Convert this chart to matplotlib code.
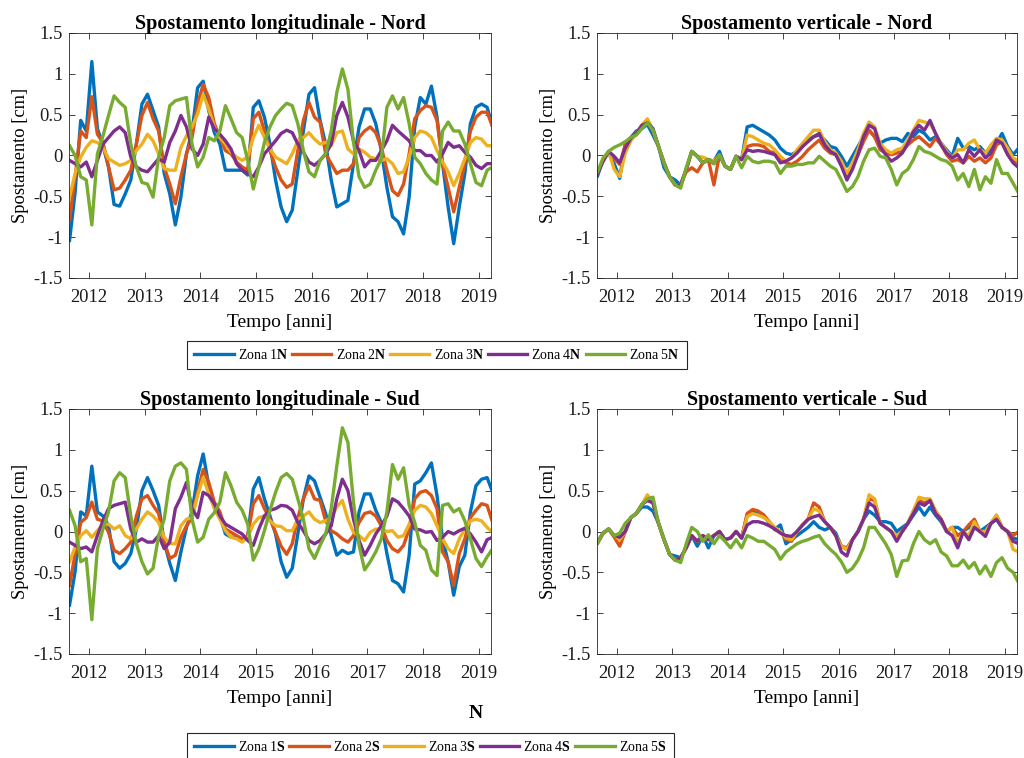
import matplotlib
matplotlib.use('Agg')
import matplotlib.pyplot as plt
from matplotlib.lines import Line2D

plt.rcParams['font.family'] = ['Liberation Serif', 'DejaVu Serif']
plt.rcParams['mathtext.fontset'] = 'custom'
plt.rcParams['mathtext.rm'] = 'Liberation Serif'
plt.rcParams['mathtext.bf'] = 'Liberation Serif:bold'

# ---- time axis (decimal years) ----
t = [2011.65, 2011.75, 2011.85, 2011.95, 2012.05, 2012.15, 2012.25, 2012.35, 2012.45, 2012.55,
     2012.65, 2012.75, 2012.85, 2012.95, 2013.05, 2013.15, 2013.25, 2013.35, 2013.45, 2013.55,
     2013.65, 2013.75, 2013.85, 2013.95, 2014.05, 2014.15, 2014.25, 2014.35, 2014.45, 2014.55,
     2014.65, 2014.75, 2014.85, 2014.95, 2015.05, 2015.15, 2015.25, 2015.35, 2015.45, 2015.55,
     2015.65, 2015.75, 2015.85, 2015.95, 2016.05, 2016.15, 2016.25, 2016.35, 2016.45, 2016.55,
     2016.65, 2016.75, 2016.85, 2016.95, 2017.05, 2017.15, 2017.25, 2017.35, 2017.45, 2017.55,
     2017.65, 2017.75, 2017.85, 2017.95, 2018.05, 2018.15, 2018.25, 2018.35, 2018.45, 2018.55,
     2018.65, 2018.75, 2018.85, 2018.95, 2019.05, 2019.15, 2019.25]

# ---- Spostamento longitudinale - Nord ----
ln_z1 = [-1.04, -0.45, 0.43, 0.30, 1.15, 0.33, 0.12, -0.14, -0.60, -0.62,
         -0.47, -0.30, 0.14, 0.63, 0.75, 0.55, 0.35, -0.22, -0.47, -0.85,
         -0.51, 0.02, 0.30, 0.83, 0.91, 0.55, 0.28, 0.14, -0.18, -0.18,
         -0.18, -0.18, -0.24, 0.59, 0.67, 0.47, 0.14, -0.30, -0.63, -0.81,
         -0.67, -0.18, 0.30, 0.75, 0.83, 0.43, 0.14, -0.30, -0.63, -0.59,
         -0.55, -0.10, 0.35, 0.57, 0.57, 0.39, 0.06, -0.39, -0.75, -0.81,
         -0.96, -0.51, 0.35, 0.71, 0.63, 0.85, 0.47, -0.10, -0.63, -1.08,
         -0.63, -0.22, 0.39, 0.59, 0.63, 0.59, 0.35]
ln_z2 = [-0.79, -0.26, 0.30, 0.22, 0.72, 0.26, 0.16, -0.14, -0.42, -0.40,
         -0.30, -0.18, 0.14, 0.49, 0.65, 0.45, 0.30, -0.14, -0.35, -0.59,
         -0.26, 0.02, 0.22, 0.63, 0.87, 0.71, 0.39, 0.22, 0.06, 0.02,
         -0.08, -0.14, -0.18, 0.45, 0.53, 0.30, 0.06, -0.14, -0.30, -0.39,
         -0.35, 0.06, 0.43, 0.65, 0.47, 0.41, 0.02, -0.10, -0.22, -0.18,
         -0.18, -0.10, 0.22, 0.30, 0.35, 0.28, 0.10, -0.18, -0.43, -0.49,
         -0.35, 0.02, 0.45, 0.55, 0.61, 0.59, 0.43, -0.10, -0.39, -0.69,
         -0.39, -0.10, 0.30, 0.47, 0.53, 0.53, 0.35]
ln_z3 = [-0.51, -0.22, -0.02, 0.10, 0.18, 0.16, 0.10, -0.04, -0.08, -0.12,
         -0.10, -0.06, 0.06, 0.14, 0.26, 0.18, 0.02, -0.16, -0.18, -0.18,
         0.10, 0.24, 0.35, 0.51, 0.75, 0.57, 0.35, 0.22, 0.14, 0.04,
         -0.02, -0.06, -0.02, 0.22, 0.37, 0.22, 0.08, -0.02, -0.06, -0.10,
         0.02, 0.18, 0.22, 0.28, 0.20, 0.14, 0.16, 0.12, 0.28, 0.30,
         0.08, 0.02, 0.08, 0.04, -0.02, -0.04, -0.06, -0.04, -0.10, -0.22,
         -0.20, -0.02, 0.22, 0.30, 0.28, 0.22, 0.06, -0.08, -0.20, -0.37,
         -0.22, -0.04, 0.16, 0.22, 0.20, 0.12, 0.12]
ln_z4 = [-0.06, -0.10, -0.14, -0.08, -0.26, -0.06, 0.14, 0.22, 0.30, 0.35,
         0.28, -0.02, -0.14, -0.18, -0.20, -0.12, -0.04, -0.08, 0.16, 0.30,
         0.49, 0.35, 0.08, 0.00, 0.14, 0.47, 0.33, 0.26, 0.18, 0.08,
         -0.10, -0.18, -0.22, -0.26, -0.14, 0.02, 0.10, 0.18, 0.27, 0.31,
         0.28, 0.14, 0.04, -0.08, -0.12, -0.06, 0.02, 0.14, 0.49, 0.65,
         0.47, 0.18, 0.06, -0.14, -0.06, -0.06, 0.06, 0.18, 0.37, 0.30,
         0.24, 0.18, 0.06, 0.06, 0.00, 0.00, -0.08, 0.02, 0.16, 0.10,
         0.12, 0.04, -0.02, -0.12, -0.16, -0.10, -0.10]
ln_z5 = [0.12, 0.00, -0.26, -0.30, -0.85, 0.02, 0.24, 0.49, 0.73, 0.65,
         0.59, 0.14, -0.14, -0.33, -0.35, -0.51, -0.02, 0.22, 0.61, 0.67,
         0.69, 0.71, 0.14, -0.14, -0.02, 0.22, 0.18, 0.30, 0.61, 0.45,
         0.28, 0.22, -0.06, -0.41, -0.14, 0.16, 0.35, 0.49, 0.57, 0.64,
         0.61, 0.39, 0.06, -0.20, -0.26, -0.06, 0.02, 0.30, 0.77, 1.06,
         0.81, 0.16, -0.26, -0.39, -0.35, -0.18, -0.04, 0.59, 0.73, 0.57,
         0.71, 0.39, -0.02, -0.10, -0.22, -0.30, -0.35, 0.30, 0.41, 0.30,
         0.30, 0.14, -0.10, -0.33, -0.37, -0.18, -0.14]

# ---- Spostamento verticale - Nord ----
vn_z1 = [-0.25, -0.05, 0.03, -0.10, -0.28, 0.15, 0.22, 0.30, 0.33, 0.38,
         0.25, 0.11, -0.15, -0.26, -0.30, -0.36, -0.17, 0.05, -0.01, -0.09,
         -0.05, -0.07, 0.05, -0.13, -0.17, -0.01, -0.05, 0.35, 0.37, 0.33,
         0.29, 0.25, 0.19, 0.09, 0.03, 0.01, 0.05, 0.11, 0.19, 0.23,
         0.25, 0.19, 0.11, 0.09, -0.01, -0.13, -0.01, 0.11, 0.23, 0.31,
         0.23, 0.15, 0.19, 0.21, 0.21, 0.17, 0.27, 0.23, 0.31, 0.27,
         0.19, 0.23, 0.15, 0.07, -0.01, 0.21, 0.09, 0.11, 0.07, 0.11,
         0.03, 0.07, 0.15, 0.27, 0.11, 0.01, 0.09]
vn_z2 = [-0.20, -0.07, 0.05, -0.03, -0.11, 0.13, 0.21, 0.27, 0.37, 0.42,
         0.31, 0.11, -0.09, -0.26, -0.36, -0.36, -0.20, -0.15, -0.20, -0.09,
         -0.05, -0.36, 0.01, -0.13, -0.17, -0.01, -0.05, 0.11, 0.13, 0.13,
         0.11, 0.05, 0.03, -0.03, -0.09, -0.11, -0.07, -0.01, 0.07, 0.13,
         0.19, 0.09, 0.03, 0.01, -0.09, -0.26, -0.11, 0.01, 0.17, 0.31,
         0.23, 0.07, 0.03, 0.01, 0.03, 0.05, 0.13, 0.19, 0.23, 0.17,
         0.11, 0.21, 0.13, 0.01, -0.07, -0.05, -0.09, -0.01, -0.07, -0.03,
         -0.09, -0.03, 0.13, 0.17, 0.07, -0.05, -0.09]
vn_z3 = [-0.20, -0.07, 0.05, -0.17, -0.26, 0.03, 0.18, 0.27, 0.37, 0.45,
         0.31, 0.11, -0.09, -0.26, -0.36, -0.36, -0.17, 0.05, -0.01, -0.02,
         -0.05, -0.07, 0.01, -0.13, -0.17, -0.01, -0.05, 0.25, 0.23, 0.19,
         0.15, 0.13, 0.07, -0.01, -0.07, -0.03, 0.07, 0.15, 0.23, 0.31,
         0.31, 0.17, 0.07, 0.03, -0.07, -0.22, -0.09, 0.07, 0.27, 0.41,
         0.35, 0.15, 0.07, 0.03, 0.07, 0.09, 0.19, 0.31, 0.43, 0.41,
         0.39, 0.27, 0.15, 0.05, -0.03, 0.07, 0.07, 0.15, 0.19, 0.07,
         0.03, 0.13, 0.21, 0.19, 0.09, -0.03, -0.07]
vn_z4 = [-0.22, -0.07, 0.05, -0.01, -0.09, 0.09, 0.21, 0.27, 0.37, 0.40,
         0.33, 0.11, -0.09, -0.26, -0.36, -0.36, -0.17, 0.05, -0.01, -0.09,
         -0.05, -0.10, 0.01, -0.13, -0.17, -0.01, -0.05, 0.07, 0.05, 0.06,
         0.05, 0.03, 0.01, -0.09, -0.07, -0.03, 0.03, 0.11, 0.17, 0.23,
         0.27, 0.13, 0.05, 0.01, -0.13, -0.30, -0.17, 0.01, 0.23, 0.37,
         0.33, 0.11, 0.01, -0.07, -0.03, 0.03, 0.15, 0.29, 0.37, 0.31,
         0.43, 0.27, 0.13, 0.03, -0.03, 0.01, -0.09, 0.07, -0.01, 0.07,
         -0.03, 0.03, 0.19, 0.15, 0.01, -0.09, -0.15]
vn_z5 = [-0.20, -0.03, 0.05, 0.10, 0.13, 0.17, 0.22, 0.25, 0.33, 0.40,
         0.31, 0.11, -0.09, -0.26, -0.36, -0.40, -0.15, 0.05, -0.01, -0.09,
         -0.05, -0.10, 0.01, -0.13, -0.17, -0.01, -0.15, -0.01, -0.07, -0.09,
         -0.07, -0.07, -0.09, -0.22, -0.13, -0.13, -0.11, -0.11, -0.09, -0.09,
         -0.01, -0.07, -0.13, -0.17, -0.30, -0.44, -0.38, -0.26, -0.07, 0.07,
         0.09, -0.01, -0.03, -0.17, -0.36, -0.22, -0.17, -0.05, 0.11, 0.05,
         0.03, -0.01, -0.05, -0.07, -0.13, -0.30, -0.22, -0.38, -0.17, -0.42,
         -0.26, -0.34, -0.05, -0.22, -0.22, -0.34, -0.46]

# ---- Spostamento longitudinale - Sud ----
ls_z1 = [-0.90, -0.49, 0.24, 0.19, 0.80, 0.24, 0.19, 0.07, -0.37, -0.45,
         -0.39, -0.27, 0.03, 0.50, 0.66, 0.50, 0.32, -0.13, -0.39, -0.60,
         -0.25, 0.05, 0.24, 0.68, 0.95, 0.56, 0.30, 0.19, -0.03, -0.07,
         -0.07, -0.09, -0.07, 0.52, 0.66, 0.40, 0.19, -0.03, -0.37, -0.56,
         -0.45, -0.03, 0.40, 0.68, 0.62, 0.42, 0.22, -0.05, -0.29, -0.23,
         -0.27, -0.25, 0.24, 0.46, 0.46, 0.26, 0.11, -0.27, -0.60, -0.64,
         -0.74, -0.29, 0.58, 0.62, 0.72, 0.84, 0.44, -0.09, -0.37, -0.78,
         -0.43, -0.29, 0.24, 0.56, 0.64, 0.66, 0.48]
ls_z2 = [-0.66, -0.27, 0.11, 0.17, 0.36, 0.15, 0.13, -0.01, -0.23, -0.27,
         -0.21, -0.13, 0.19, 0.40, 0.44, 0.32, 0.22, -0.13, -0.33, -0.29,
         -0.07, 0.07, 0.17, 0.48, 0.76, 0.60, 0.36, 0.24, 0.03, -0.01,
         -0.05, -0.09, -0.05, 0.34, 0.44, 0.28, 0.15, -0.01, -0.18, -0.28,
         -0.15, 0.17, 0.40, 0.56, 0.40, 0.38, 0.13, 0.01, -0.03, -0.09,
         -0.13, -0.05, 0.11, 0.22, 0.24, 0.19, 0.07, -0.11, -0.21, -0.25,
         -0.17, 0.03, 0.40, 0.48, 0.50, 0.44, 0.28, -0.25, -0.37, -0.66,
         -0.27, -0.09, 0.17, 0.26, 0.34, 0.32, 0.11]
ls_z3 = [-0.37, -0.19, -0.05, 0.01, -0.07, 0.01, 0.09, 0.09, 0.03, 0.07,
         -0.05, -0.09, 0.03, 0.15, 0.24, 0.19, 0.11, -0.07, -0.15, -0.15,
         0.07, 0.15, 0.17, 0.44, 0.66, 0.46, 0.28, 0.15, 0.01, -0.07,
         -0.09, -0.13, -0.07, 0.09, 0.17, 0.19, 0.13, 0.07, 0.06, 0.01,
         0.01, 0.15, 0.19, 0.24, 0.15, 0.11, 0.13, 0.17, 0.30, 0.38,
         0.15, -0.01, -0.05, -0.11, -0.01, 0.03, 0.03, 0.00, 0.01, -0.07,
         -0.05, 0.09, 0.26, 0.32, 0.30, 0.22, 0.07, -0.09, -0.21, -0.27,
         -0.09, 0.03, 0.13, 0.15, 0.13, 0.05, -0.01]
ls_z4 = [-0.13, -0.17, -0.21, -0.19, -0.25, -0.05, 0.13, 0.28, 0.32, 0.34,
         0.36, 0.03, -0.13, -0.09, -0.13, -0.13, -0.05, -0.21, -0.13, 0.28,
         0.42, 0.60, 0.28, 0.17, 0.48, 0.44, 0.34, 0.19, 0.09, 0.05,
         0.01, -0.03, -0.11, -0.17, 0.03, 0.19, 0.26, 0.28, 0.32, 0.31,
         0.26, 0.11, 0.01, -0.11, -0.15, -0.11, -0.03, 0.07, 0.40, 0.64,
         0.50, 0.15, -0.11, -0.29, -0.17, -0.03, 0.07, 0.19, 0.40, 0.36,
         0.28, 0.19, 0.03, 0.02, -0.01, 0.00, -0.11, -0.07, 0.00, -0.03,
         0.01, 0.04, -0.03, -0.13, -0.25, -0.10, -0.07]
ls_z5 = [0.26, 0.07, -0.37, -0.33, -1.08, -0.21, 0.03, 0.24, 0.62, 0.72,
         0.66, 0.19, -0.15, -0.37, -0.52, -0.45, -0.05, 0.15, 0.62, 0.80,
         0.84, 0.76, 0.15, -0.13, -0.07, 0.15, 0.23, 0.36, 0.72, 0.56,
         0.36, 0.26, 0.09, -0.35, -0.21, 0.01, 0.26, 0.48, 0.66, 0.71,
         0.64, 0.40, 0.15, -0.21, -0.33, -0.17, -0.03, 0.28, 0.80, 1.27,
         1.09, 0.36, -0.17, -0.47, -0.37, -0.25, -0.09, 0.24, 0.82, 0.64,
         0.78, 0.32, 0.11, -0.17, -0.23, -0.47, -0.54, 0.32, 0.34, 0.24,
         0.28, 0.13, -0.09, -0.33, -0.43, -0.31, -0.21]

# ---- Spostamento verticale - Sud ----
vs_z1 = [-0.14, -0.02, 0.03, -0.05, -0.08, 0.00, 0.17, 0.22, 0.30, 0.30,
         0.25, 0.10, -0.10, -0.28, -0.30, -0.32, -0.20, -0.05, -0.18, -0.05,
         -0.20, -0.05, 0.00, -0.10, -0.08, 0.00, -0.08, 0.20, 0.25, 0.24,
         0.20, 0.10, 0.03, 0.08, -0.15, -0.10, -0.05, 0.00, 0.05, 0.12,
         0.05, 0.02, 0.05, -0.02, -0.18, -0.22, -0.10, 0.00, 0.15, 0.25,
         0.20, 0.12, 0.12, 0.10, 0.00, 0.05, 0.10, 0.20, 0.30, 0.20,
         0.30, 0.20, 0.12, 0.00, 0.05, 0.05, 0.00, 0.05, 0.10, 0.00,
         0.05, 0.10, 0.15, 0.05, 0.00, -0.08, -0.10]
vs_z2 = [-0.12, -0.02, 0.03, -0.07, -0.18, 0.00, 0.17, 0.22, 0.33, 0.42,
         0.35, 0.10, -0.10, -0.28, -0.35, -0.32, -0.20, -0.05, -0.12, -0.05,
         -0.10, -0.05, 0.00, -0.10, -0.08, 0.00, -0.08, 0.22, 0.27, 0.25,
         0.20, 0.12, 0.02, 0.00, -0.10, -0.12, 0.00, 0.08, 0.15, 0.35,
         0.30, 0.12, 0.05, -0.05, -0.18, -0.20, -0.10, 0.00, 0.15, 0.40,
         0.38, 0.10, 0.05, 0.00, -0.05, 0.00, 0.10, 0.25, 0.38, 0.35,
         0.38, 0.25, 0.15, 0.00, 0.05, -0.05, 0.00, 0.08, 0.15, 0.00,
         0.00, 0.10, 0.20, 0.05, 0.00, -0.05, 0.00]
vs_z3 = [-0.14, -0.02, 0.03, -0.05, -0.10, 0.00, 0.17, 0.22, 0.33, 0.45,
         0.35, 0.10, -0.10, -0.28, -0.35, -0.32, -0.20, -0.05, -0.12, -0.05,
         -0.10, -0.05, 0.00, -0.10, -0.08, 0.00, -0.08, 0.18, 0.22, 0.20,
         0.17, 0.12, 0.05, 0.00, -0.08, -0.10, 0.00, 0.08, 0.15, 0.28,
         0.25, 0.12, 0.05, -0.05, -0.18, -0.22, -0.10, 0.00, 0.15, 0.45,
         0.40, 0.10, 0.05, 0.00, -0.05, 0.00, 0.10, 0.25, 0.42, 0.40,
         0.40, 0.25, 0.15, 0.00, 0.05, -0.15, 0.00, -0.05, 0.12, 0.00,
         0.00, 0.10, 0.20, 0.05, 0.00, -0.22, -0.25]
vs_z4 = [-0.14, -0.02, 0.03, -0.05, -0.07, 0.00, 0.17, 0.22, 0.33, 0.38,
         0.35, 0.10, -0.10, -0.28, -0.35, -0.32, -0.20, -0.05, -0.12, -0.05,
         -0.10, -0.05, 0.00, -0.10, -0.08, 0.00, -0.08, 0.08, 0.12, 0.12,
         0.10, 0.07, 0.03, -0.02, -0.05, -0.06, 0.00, 0.08, 0.15, 0.18,
         0.20, 0.12, 0.05, -0.05, -0.25, -0.30, -0.10, 0.00, 0.15, 0.35,
         0.30, 0.10, 0.05, 0.00, -0.12, 0.00, 0.10, 0.22, 0.35, 0.32,
         0.38, 0.22, 0.15, 0.00, -0.05, -0.20, 0.00, -0.10, 0.05, 0.00,
         -0.06, 0.10, 0.15, 0.05, 0.00, -0.12, -0.15]
vs_z5 = [-0.14, -0.02, 0.03, -0.05, -0.02, 0.10, 0.17, 0.22, 0.33, 0.40,
         0.42, 0.10, -0.10, -0.28, -0.35, -0.38, -0.15, 0.05, 0.00, -0.12,
         -0.04, -0.15, -0.05, -0.12, -0.20, -0.10, -0.20, -0.05, -0.08, -0.12,
         -0.12, -0.17, -0.22, -0.34, -0.25, -0.20, -0.15, -0.12, -0.10, -0.07,
         -0.05, -0.15, -0.22, -0.28, -0.37, -0.50, -0.45, -0.35, -0.20, 0.05,
         0.05, -0.05, -0.15, -0.28, -0.55, -0.36, -0.35, -0.15, 0.00, -0.10,
         -0.15, -0.10, -0.25, -0.30, -0.42, -0.42, -0.35, -0.45, -0.38, -0.52,
         -0.42, -0.55, -0.38, -0.32, -0.45, -0.50, -0.63]

titles = ['Spostamento longitudinale - Nord', 'Spostamento verticale - Nord',
          'Spostamento longitudinale - Sud', 'Spostamento verticale - Sud']
panels = [[ln_z1, ln_z2, ln_z3, ln_z4, ln_z5],
          [vn_z1, vn_z2, vn_z3, vn_z4, vn_z5],
          [ls_z1, ls_z2, ls_z3, ls_z4, ls_z5],
          [vs_z1, vs_z2, vs_z3, vs_z4, vs_z5]]
labels_N = [r'Zona 1$\mathbf{N}$', r'Zona 2$\mathbf{N}$', r'Zona 3$\mathbf{N}$',
            r'Zona 4$\mathbf{N}$', r'Zona 5$\mathbf{N}$']
labels_S = [r'Zona 1$\mathbf{S}$', r'Zona 2$\mathbf{S}$', r'Zona 3$\mathbf{S}$',
            r'Zona 4$\mathbf{S}$', r'Zona 5$\mathbf{S}$']
xticks = [2012, 2013, 2014, 2015, 2016, 2017, 2018, 2019]
yticks = [-1.5, -1, -0.5, 0, 0.5, 1, 1.5]
yticklabels = ['-1.5', '-1', '-0.5', '0', '0.5', '1', '1.5']
colors = ['#0072BD', '#D95319', '#EDB120', '#7E2F8E', '#77AC30']

W, H = 1024, 758
fig = plt.figure(figsize=(W / 100, H / 100), dpi=100)
fig.patch.set_facecolor('white')

boxes = [(69, 33, 491, 278), (597, 33, 1017, 278),
         (69, 409, 491, 654), (597, 409, 1017, 654)]
axc = '#262626'
for (l, tp, r, b), title, series in zip(boxes, titles, panels):
    ax = fig.add_axes([l / W, 1 - b / H, (r - l) / W, (b - tp) / H])
    for vals, c in zip(series, colors):
        ax.plot(t, vals, color=c, lw=2.4, solid_joinstyle='round')
    ax.set_xlim(2011.64, 2019.22)
    ax.set_ylim(-1.5, 1.5)
    ax.set_xticks(xticks)
    ax.set_xticklabels([str(x) for x in xticks])
    ax.set_yticks(yticks)
    ax.set_yticklabels(yticklabels)
    ax.tick_params(direction='in', top=True, right=True, length=4, width=0.6,
                   colors=axc, labelcolor='#1a1a1a', labelsize=13.3)
    ax.tick_params(axis='x', pad=8)
    ax.tick_params(axis='y', pad=4.5)
    for s in ax.spines.values():
        s.set_linewidth(0.6)
        s.set_color(axc)
    ax.set_title(title, fontsize=14.5, fontweight='bold', pad=3)
    ax.set_xlabel('Tempo [anni]', fontsize=14, labelpad=6)
    ax.set_ylabel('Spostamento [cm]', fontsize=13.3, labelpad=3)

handles = [Line2D([], [], color=c, lw=2.4) for c in colors]
for labs, ytop in ((labels_N, 341), (labels_S, 733)):
    leg = fig.legend(handles, labs, loc='upper left',
                     bbox_to_anchor=(187 / W, 1 - ytop / H), ncol=5,
                     frameon=True, fancybox=False, edgecolor=axc, framealpha=1,
                     fontsize=10, handlelength=2.85, handletextpad=0.3,
                     columnspacing=0.25, borderpad=0.5, borderaxespad=0)
    leg.get_frame().set_linewidth(0.8)

fig.text(476 / W, 1 - 713 / H, 'N', fontsize=14, fontweight='bold',
         ha='center', va='center')

fig.savefig('out.png', dpi=100)
